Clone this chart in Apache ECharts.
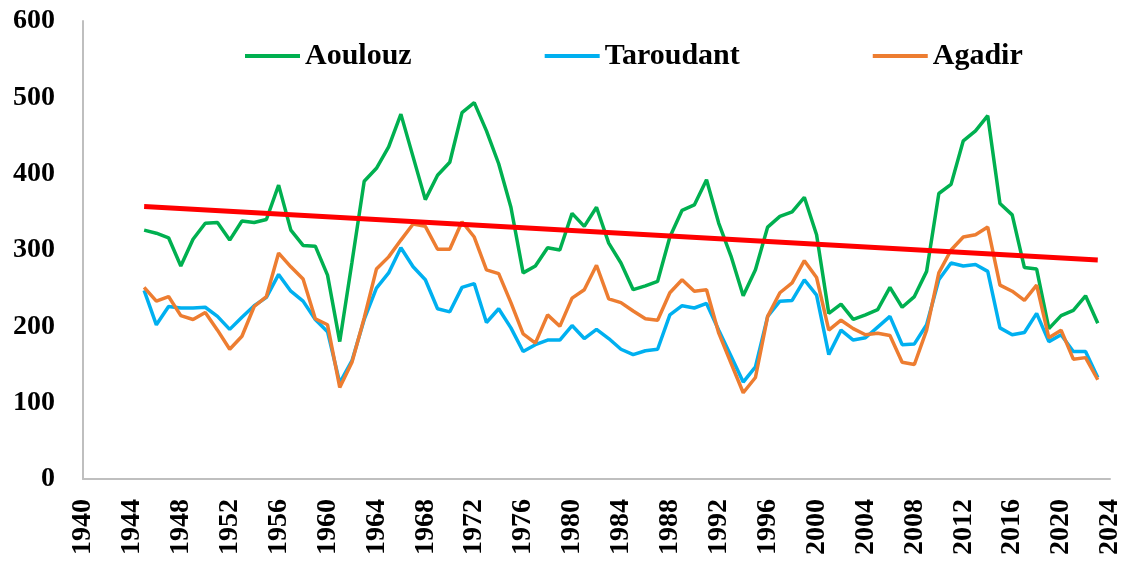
<!DOCTYPE html>
<html>
<head>
<meta charset="utf-8">
<title>Aoulouz / Taroudant / Agadir</title>
<script src="https://cdn.jsdelivr.net/npm/echarts@6/dist/echarts.min.js"></script>
<style>
  html, body { margin: 0; padding: 0; background: #fff; }
  #chart { width: 1132px; height: 565px; }
</style>
</head>
<body>
<div id="chart"></div>
<script>
// years 1945 - 2023
const years = [
  1945, 1946, 1947, 1948, 1949, 1950, 1951, 1952, 1953, 1954,
  1955, 1956, 1957, 1958, 1959, 1960, 1961, 1962, 1963, 1964,
  1965, 1966, 1967, 1968, 1969, 1970, 1971, 1972, 1973, 1974,
  1975, 1976, 1977, 1978, 1979, 1980, 1981, 1982, 1983, 1984,
  1985, 1986, 1987, 1988, 1989, 1990, 1991, 1992, 1993, 1994,
  1995, 1996, 1997, 1998, 1999, 2000, 2001, 2002, 2003, 2004,
  2005, 2006, 2007, 2008, 2009, 2010, 2011, 2012, 2013, 2014,
  2015, 2016, 2017, 2018, 2019, 2020, 2021, 2022, 2023
]

const aoulouz = [
  326, 322, 316, 279, 314, 335, 336, 313, 338, 336,
  340, 385, 326, 306, 305, 267, 180, 284, 390, 407,
  435, 478, 422, 366, 398, 415, 480, 493, 456, 413,
  356, 270, 279, 303, 300, 348, 331, 356, 309, 283,
  248, 253, 259, 317, 352, 359, 392, 335, 292, 240,
  274, 330, 344, 350, 369, 320, 217, 229, 209, 215,
  222, 251, 225, 239, 272, 374, 386, 443, 456, 476,
  361, 346, 277, 275, 197, 214, 221, 240, 204
]

const taroudant = [
  247, 202, 226, 224, 224, 225, 213, 196, 212, 227,
  238, 268, 246, 233, 209, 193, 126, 155, 209, 250,
  270, 303, 278, 261, 223, 219, 251, 256, 205, 223,
  198, 167, 176, 182, 182, 201, 184, 196, 184, 170,
  163, 168, 170, 215, 227, 224, 230, 195, 161, 127,
  147, 213, 233, 234, 261, 241, 163, 195, 182, 185,
  199, 213, 176, 177, 202, 261, 283, 279, 281, 272,
  198, 189, 192, 217, 180, 189, 167, 167, 133
]

const agadir = [
  251, 233, 239, 214, 209, 218, 195, 170, 187, 226,
  239, 296, 278, 262, 210, 202, 120, 153, 211, 275,
  291, 313, 334, 331, 301, 301, 337, 317, 274, 269,
  231, 190, 178, 215, 200, 237, 248, 280, 236, 231,
  220, 210, 208, 244, 261, 246, 248, 191, 152, 113,
  133, 213, 244, 257, 286, 264, 195, 208, 197, 189,
  191, 188, 153, 150, 195, 270, 300, 317, 320, 330,
  254, 246, 234, 254, 185, 195, 157, 159, 130
]

// red trend line, read at both ends
const trendYears = [1945, 2023]
const trendValues = [357, 287]

const xTicks = { min: 1940, max: 2024, step: 4 }
const yTicks = { min: 0, max: 600, step: 100 }

const font = "'Liberation Serif', 'Times New Roman', serif"

const pairs = (xs, ys) => xs.map((x, i) => [x, ys[i]])

const lineSeries = (name, data, color) => ({
  name: name,
  type: 'line',
  data: pairs(years, data),
  showSymbol: false,
  symbol: 'none',
  smooth: false,
  lineStyle: { color: color, width: 3.5 },
  itemStyle: { color: color },
  animation: false,
})

const chart = echarts.init(document.getElementById('chart'))

const option = {
  backgroundColor: '#ffffff',
  animation: false,
  grid: {
    left: 83,
    right: 22,
    top: 21,
    bottom: 86,
    containLabel: false,
  },
  legend: {
    data: ['Aoulouz', 'Taroudant', 'Agadir'],
    left: 240,
    top: 36,
    icon: 'rect',
    itemWidth: 55,
    itemHeight: 4,
    itemGap: 133,
    textStyle: {
      fontFamily: font,
      fontWeight: 'bold',
      fontSize: 30,
      color: '#000',
      padding: [0, 0, 0, 0],
    },
  },
  xAxis: {
    type: 'value',
    min: xTicks.min,
    max: xTicks.max,
    interval: xTicks.step,
    axisLine: { show: true, lineStyle: { color: '#bfbfbf', width: 2 } },
    axisTick: { show: false },
    splitLine: { show: false },
    axisLabel: {
      rotate: 90,
      margin: 20,
      fontFamily: font,
      fontWeight: 'bold',
      fontSize: 28,
      color: '#000',
      formatter: (v) => String(v),
    },
  },
  yAxis: {
    type: 'value',
    min: yTicks.min,
    max: yTicks.max,
    interval: yTicks.step,
    axisLine: { show: true, lineStyle: { color: '#bfbfbf', width: 2 } },
    axisTick: { show: false },
    splitLine: { show: false },
    axisLabel: {
      margin: 28,
      fontFamily: font,
      fontWeight: 'bold',
      fontSize: 28,
      color: '#000',
    },
  },
  series: [
    lineSeries('Aoulouz', aoulouz, '#00b050'),
    lineSeries('Taroudant', taroudant, '#00b0f0'),
    lineSeries('Agadir', agadir, '#ed7d31'),
    {
      name: 'Trend',
      type: 'line',
      data: pairs(trendYears, trendValues),
      symbol: 'none',
      lineStyle: { color: '#ff0000', width: 5 },
      itemStyle: { color: '#ff0000' },
      z: 5,
      animation: false,
    },
  ],
}

chart.setOption(option)
</script>
</body>
</html>
